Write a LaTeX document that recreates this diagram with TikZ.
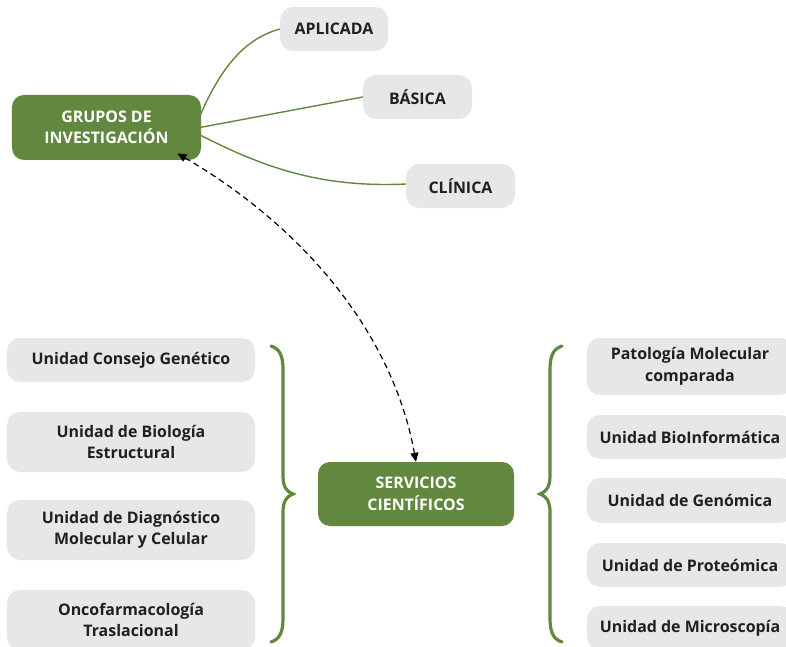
\documentclass[tikz,border=0pt]{standalone}
\usepackage{fontspec}
\setmainfont{Open Sans}
\usetikzlibrary{arrows.meta}
\definecolor{grn}{RGB}{98,136,63}
\definecolor{lgray}{RGB}{230,231,232}
\definecolor{txt}{RGB}{35,31,32}
\begin{document}
\begin{tikzpicture}[x=1bp,y=-1bp,
  gbox/.style={fill=grn,rounded corners=12bp,text=white,font=\bfseries\fontsize{16}{21.5}\selectfont,align=center,inner sep=0pt},
  wbox/.style={fill=lgray,rounded corners=13bp,text=txt,font=\bfseries\fontsize{16}{21.5}\selectfont,align=center,inner sep=0pt},
  link/.style={draw=grn,line width=1.4bp},
  brace/.style={draw=grn,line width=3.2bp,line cap=round},
  dasharrow/.style={draw=black,dashed,line width=1.2bp,dash pattern=on 6bp off 4bp,{Triangle[length=9bp,width=8bp]}-{Triangle[length=9bp,width=8bp]}}]
\useasboundingbox (0,0) rectangle (786,647);
% top
\node[gbox,minimum width=189bp,minimum height=65bp] (g) at (106.5,127.5) {GRUPOS DE\\INVESTIGACIÓN};
\node[wbox,minimum width=108bp,minimum height=44bp] (a) at (334,29) {APLICADA};
\node[wbox,minimum width=109bp,minimum height=44bp] (b) at (417.5,97) {BÁSICA};
\node[wbox,minimum width=109bp,minimum height=44bp] (c) at (460.5,186) {CLÍNICA};
\draw[link] ([shift={(-4,-5)}]g.east) .. controls (222,62) and (248,38) .. (a.west);
\draw[link] ([shift={(-4,0.5)}]g.east) -- (b.west);
\draw[link] ([shift={(-4,6)}]g.east) .. controls (262,167) and (320,188) .. ([yshift=2]c.west);
% center
\node[gbox,minimum width=196bp,minimum height=64bp] (s) at (416,494) {SERVICIOS\\CIENTÍFICOS};
\draw[dasharrow] ([shift={(71,26)}]g.center) .. controls (300,225) and (392,330) .. (s.north);
% left column
\node[wbox,minimum width=248bp,minimum height=44bp] (l1) at (131,360) {Unidad Consejo Genético};
\node[wbox,minimum width=248bp,minimum height=60bp] (l2) at (131,442) {Unidad de Biología\\Estructural};
\node[wbox,minimum width=248bp,minimum height=60bp] (l3) at (131,530) {Unidad de Diagnóstico\\Molecular y Celular};
\node[wbox,minimum width=248bp,minimum height=60bp] (l4) at (131,620) {Oncofarmacología\\Traslacional};
% right column
\node[wbox,minimum width=206bp,minimum height=57bp] (r1) at (690,366.5) {Patología Molecular\\comparada};
\node[wbox,minimum width=206bp,minimum height=44bp] (r2) at (690,437) {Unidad BioInformática};
\node[wbox,minimum width=206bp,minimum height=45bp] (r3) at (690,500.5) {Unidad de Genómica};
\node[wbox,minimum width=206bp,minimum height=44bp] (r4) at (690,565) {Unidad de Proteómica};
\node[wbox,minimum width=206bp,minimum height=44bp] (r5) at (690,628) {Unidad de Microscopía};
% braces
\draw[brace] (271,346) .. controls (280,349) and (283,356) .. (283,370) -- (283,476)
  .. controls (283,487) and (287,492) .. (293,494)
  .. controls (287,496) and (283,501) .. (283,512) -- (283,618)
  .. controls (283,632) and (280,639) .. (271,642);
\draw[brace] (562,346) .. controls (553,349) and (550,356) .. (550,370) -- (550,476)
  .. controls (550,487) and (546,492) .. (540,494)
  .. controls (546,496) and (550,501) .. (550,512) -- (550,618)
  .. controls (550,632) and (553,639) .. (562,642);
\end{tikzpicture}
\end{document}
